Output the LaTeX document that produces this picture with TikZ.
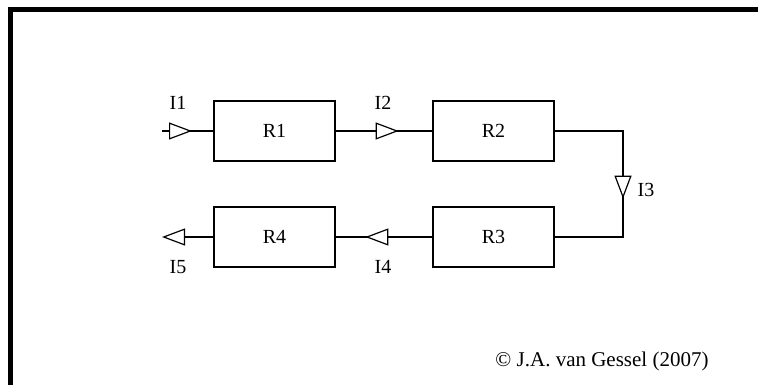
\documentclass[tikz,border=0pt]{standalone}
\usepackage{fontspec}
\setmainfont{Liberation Serif}
\usetikzlibrary{arrows.meta,decorations.markings}
\begin{document}
\begin{tikzpicture}[x=1pt,y=-1pt,
  block/.style={draw,line width=1.3pt,minimum width=121pt,minimum height=60pt,inner sep=0pt,font=\fontsize{20}{24}\selectfont},
  lbl/.style={inner sep=0pt,font=\fontsize{20}{24}\selectfont},
  wire/.style={line width=1.3pt},
  tri/.style={decoration={markings,mark=at position #1 with {\arrow{Triangle[length=23pt,width=17pt,fill=white,line width=1.2pt]}}},postaction={decorate}}
]
\useasboundingbox (0,0) rectangle (758,385);
\draw[line width=5pt,line join=miter] (10.5,385) -- (10.5,9.5) -- (758,9.5);
\node[block] (r1) at (274.5,131) {R1};
\node[block] (r2) at (493.5,131) {R2};
\node[block] (r3) at (493.5,237) {R3};
\node[block] (r4) at (274.5,237) {R4};
\coordinate (in) at (162,131);
\coordinate (out) at (162,237);
\coordinate (c1) at (623,131);
\coordinate (c2) at (623,237);
\draw[wire,tri=30pt] (in) -- (r1.west);
\draw[wire,tri=63pt] (r1.east) -- (r2.west);
\draw[wire,tri=136pt] (r2.east) -- (c1) -- (c2) -- (r3.east);
\draw[wire,tri=67pt] (r3.west) -- (r4.east);
\draw[wire,-{Triangle[length=23pt,width=17pt,fill=white,line width=1.2pt]}] (r4.west) -- (out);
\node[lbl] (i1) at (178,103) {I1};
\node[lbl] (i2) at (383,103) {I2};
\node[lbl] (i3) at (646,190) {I3};
\node[lbl] (i4) at (383,267) {I4};
\node[lbl] (i5) at (178,267) {I5};
\node[inner sep=0pt,font=\fontsize{21}{25}\selectfont] (cr) at (602,361) {© J.A. van Gessel (2007)};
\end{tikzpicture}
\end{document}
